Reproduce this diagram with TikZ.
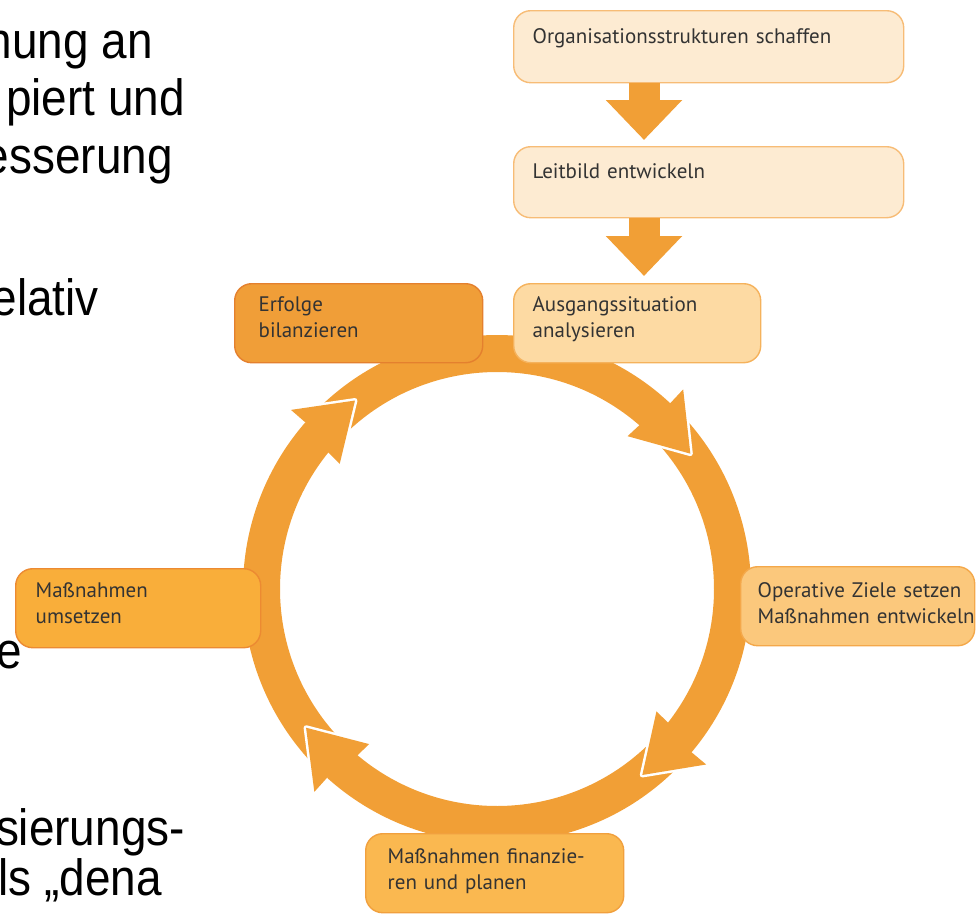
\documentclass[tikz,border=0pt]{standalone}
\usepackage{fontspec}
\setmainfont{PT Sans}
\newfontfamily\slidefont{Liberation Sans}
\usetikzlibrary{arrows.meta}

\definecolor{ring}{RGB}{241,159,54}
\definecolor{boxtext}{RGB}{51,51,51}
\definecolor{paleFill}{RGB}{253,235,210}
\definecolor{paleLine}{RGB}{247,188,118}
\definecolor{ausgFill}{RGB}{253,218,163}
\definecolor{ausgLine}{RGB}{245,178,92}
\definecolor{erfFill}{RGB}{240,158,56}
\definecolor{erfLine}{RGB}{228,128,46}
\definecolor{operFill}{RGB}{251,200,124}
\definecolor{operLine}{RGB}{244,168,74}
\definecolor{finFill}{RGB}{250,184,80}
\definecolor{finLine}{RGB}{241,160,62}
\definecolor{umsFill}{RGB}{249,174,58}
\definecolor{umsLine}{RGB}{236,138,50}

\tikzset{
  box/.style={draw, rounded corners=17pt, line width=1.4pt, anchor=north west,
    inner ysep=0pt, align=left, text=boxtext,
    font=\fontsize{21}{25.5}\selectfont},
  slide/.style={anchor=base east, inner sep=0pt,
    font=\slidefont\fontsize{51}{58}\selectfont},
  fatarrow/.style={draw=ring, line width=31pt,
    -{Triangle[length=40pt,width=74pt]}},
}

\begin{document}
\begin{tikzpicture}[x=1pt,y=1pt]
  \useasboundingbox (0,0) rectangle (976,-913);
  \clip (0,0) rectangle (976,-913);

  % slide text cut off at the left
  \node[slide] (s1) at (153,-58) {\scalebox{.9}[1]{hnung an}};
  \node[slide] (s2) at (185,-115) {\scalebox{.9}[1]{piert und}};
  \node[slide] (s3) at (173,-173) {\scalebox{.9}[1]{esserung}};
  \node[slide] (s4) at (99,-315) {\scalebox{.9}[1]{elativ}};
  \node[slide] (s5) at (22,-668) {\scalebox{.9}[1]{e}};
  \node[slide] (s6) at (185,-845) {\scalebox{.9}[1]{sierungs-}};
  \node[slide] (s7) at (162,-895) {\scalebox{.9}[1]{ls „dena}};

  % cycle
  \begin{scope}[shift={(497,-589)}]
    \foreach \s/\e in {134/47, 42/-40, -45/-132, -137/-221}
      \fill[ring] (\s:254pt) arc[start angle=\s, end angle=\e, radius=254pt]
        -- (\e:217pt) arc[start angle=\e, end angle=\s, radius=217pt] -- cycle;
    \foreach \t in {35,-52,-144,127} {
      \draw[white, line width=5pt, line join=round]
        ({\t+12}:273pt) -- (\t:236pt) -- ({\t+14.5}:201pt);
      \fill[ring] ({\t+12}:273pt) -- (\t:236pt) -- ({\t+14.5}:201pt)
        -- ({\t+14}:217pt) -- ({\t+12}:254pt) -- cycle;
    }
  \end{scope}

  % steps
  \node[box, fill=paleFill, draw=paleLine, inner xsep=19pt, text width=352pt,
    text height=33pt, text depth=39pt] (org) at (513,-10)
    {Organisationsstrukturen schaffen};
  \node[box, fill=paleFill, draw=paleLine, inner xsep=19pt, text width=352pt,
    text height=32pt, text depth=39pt] (leit) at (513,-146)
    {Leitbild entwickeln};
  \node[box, fill=ausgFill, draw=ausgLine, inner xsep=19pt, text width=209pt,
    text height=28pt, text depth=51pt] (ausg) at (513,-283)
    {Ausgangssituation\\analysieren};
  \node[box, fill=erfFill, draw=erfLine, inner xsep=24pt, text width=200pt,
    text height=28pt, text depth=51pt] (erf) at (234,-283)
    {Erfolge\\bilanzieren};
  \node[box, fill=operFill, draw=operLine, inner xsep=17pt, text width=200pt,
    text height=31pt, text depth=48pt] (oper) at (740,-566)
    {\mbox{Operative Ziele setzen}\\\mbox{Maßnahmen entwickeln}};
  \node[box, fill=umsFill, draw=umsLine, inner xsep=20pt, text width=205pt,
    text height=29pt, text depth=50pt] (ums) at (15,-568)
    {Maßnahmen\\umsetzen};
  \node[box, fill=finFill, draw=finLine, inner xsep=22pt, text width=214pt,
    text height=30pt, text depth=49pt] (fin) at (365,-833)
    {\mbox{Maßnahmen finanzie-}\\ren und planen};

  \coordinate (ax) at (644,0);
  \draw[fatarrow, shorten >=6pt] (org.south -| ax) -- (leit.north -| ax);
  \draw[fatarrow, shorten >=7pt] (leit.south -| ax) -- (ausg.north -| ax);
\end{tikzpicture}
\end{document}
